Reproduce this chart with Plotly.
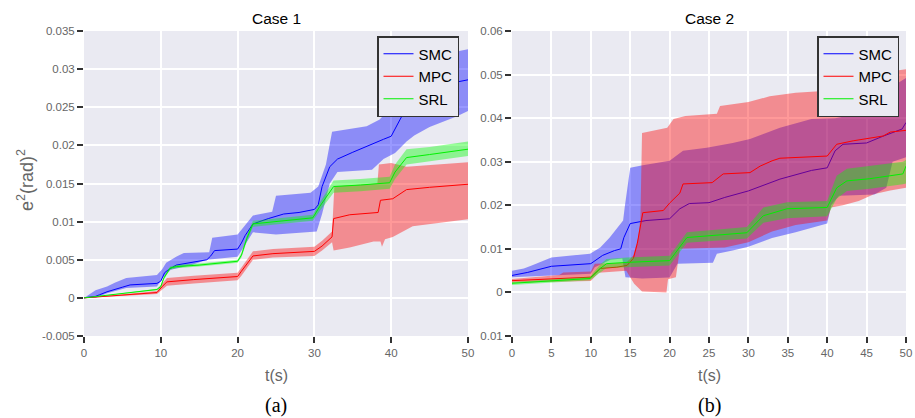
import plotly.graph_objects as go

# ---------------- Case 1 data ----------------
t1_smc = [0, 1.5, 2, 3, 5, 6, 9.5, 10, 10.5, 11, 12, 14, 16, 16.5, 17, 20, 20.5, 21, 22, 24, 26, 28, 30, 30.5, 31, 32, 33, 35, 37, 39, 40, 41, 42, 44, 46, 48, 50]
smc1 = [0, 0.0002, 0.0004, 0.0008, 0.0014, 0.0017, 0.0019, 0.0022, 0.0033, 0.0037, 0.0043, 0.0047, 0.0050, 0.0055, 0.0062, 0.0064, 0.0072, 0.0082, 0.0097, 0.0104, 0.0110, 0.0112, 0.0116, 0.0122, 0.0146, 0.0172, 0.0182, 0.0191, 0.0200, 0.0208, 0.0212, 0.0230, 0.0250, 0.0265, 0.0275, 0.0282, 0.0286]
t1_smc_up = [0, 1.5, 3, 4, 5.5, 9.5, 10.2, 10.7, 12, 13, 16.3, 16.7, 20, 21, 22, 24.5, 25, 29.5, 30.5, 31.5, 32.3, 36.8, 38.5, 39.5, 42, 44, 46, 48, 50]
smc1_up = [0, 0.001, 0.0015, 0.002, 0.0026, 0.003, 0.0038, 0.0046, 0.0054, 0.0059, 0.006, 0.0079, 0.0083, 0.0096, 0.0108, 0.0113, 0.0134, 0.0138, 0.0146, 0.0175, 0.0218, 0.0225, 0.0234, 0.0245, 0.027, 0.029, 0.031, 0.0322, 0.0326]
t1_smc_lo = [0, 1.5, 3, 5.5, 9.5, 10.3, 11.3, 14, 16, 20, 21, 22, 25, 30.3, 31, 32, 33, 37.5, 39, 40.5, 42, 43, 45, 48.5, 50]
smc1_lo = [0, 0, 0.0006, 0.0013, 0.0015, 0.0027, 0.0037, 0.0043, 0.005, 0.0054, 0.007, 0.0086, 0.0083, 0.0087, 0.011, 0.015, 0.0165, 0.0168, 0.0182, 0.019, 0.0205, 0.0213, 0.0224, 0.0238, 0.0245]

t1_mpc = [0, 9.5, 10.2, 10.8, 14.3, 20, 20.5, 22, 24.6, 30, 31, 32.3, 32.5, 34.6, 38.3, 38.6, 40.2, 42, 45, 50]
mpc1 = [0, 0.0007, 0.0015, 0.0021, 0.0024, 0.0028, 0.0035, 0.0055, 0.0058, 0.0061, 0.0068, 0.0080, 0.0104, 0.0109, 0.0112, 0.0128, 0.0130, 0.0142, 0.0145, 0.0149]
t1_mpc_up = [0, 9.5, 10.2, 10.8, 14.3, 20, 20.5, 22, 24.6, 30, 31, 32.3, 32.6, 38.2, 38.4, 40, 42, 50]
mpc1_up = [0, 0.0009, 0.0019, 0.0026, 0.0029, 0.0033, 0.0040, 0.0061, 0.0064, 0.0067, 0.0075, 0.0087, 0.0146, 0.0150, 0.0175, 0.0177, 0.0172, 0.0178]
t1_mpc_lo = [0, 9.5, 10.2, 10.8, 14.3, 20, 20.5, 22, 24.6, 30, 31, 32.3, 32.5, 34.6, 37.7, 38.6, 38.8, 39.2, 40.2, 42.8, 50]
mpc1_lo = [0, 0.0005, 0.0011, 0.0016, 0.0019, 0.0023, 0.0029, 0.0050, 0.0053, 0.0055, 0.0062, 0.0073, 0.0062, 0.0066, 0.0074, 0.0074, 0.0067, 0.0077, 0.0080, 0.0094, 0.0103]

t1_srl = [0, 9.5, 10, 10.4, 11.2, 12, 15, 17, 20, 20.5, 21.2, 22, 24.6, 29.8, 30.7, 32.5, 36, 39.8, 40.5, 42, 45, 50]
srl1 = [0, 0.0011, 0.0015, 0.0026, 0.0039, 0.0041, 0.0043, 0.0045, 0.0048, 0.0056, 0.0078, 0.0097, 0.0100, 0.0105, 0.0120, 0.0146, 0.0148, 0.0151, 0.0165, 0.0184, 0.0188, 0.0195]
srl1_up = [0, 0.0012, 0.0017, 0.0028, 0.0041, 0.0043, 0.0045, 0.0047, 0.0050, 0.0059, 0.0082, 0.0101, 0.0104, 0.0109, 0.0125, 0.0154, 0.0156, 0.0159, 0.0175, 0.0195, 0.0198, 0.0205]
srl1_lo = [0, 0.0010, 0.0013, 0.0024, 0.0037, 0.0039, 0.0041, 0.0043, 0.0046, 0.0053, 0.0074, 0.0093, 0.0096, 0.0101, 0.0114, 0.0138, 0.0140, 0.0143, 0.0156, 0.0175, 0.0179, 0.0186]

# ---------------- Case 2 data ----------------
t2_smc = [0, 2, 5, 10, 11.5, 13, 13.8, 14.2, 15, 17, 20, 21.3, 22.5, 25, 27, 30, 34, 38, 40, 41, 42, 45, 47, 49.5, 50]
smc2 = [0.0039, 0.0046, 0.0060, 0.0066, 0.0085, 0.0096, 0.0100, 0.0126, 0.0158, 0.0165, 0.0169, 0.0192, 0.0204, 0.0206, 0.0218, 0.0233, 0.0260, 0.0280, 0.0286, 0.0325, 0.0340, 0.0343, 0.0358, 0.0375, 0.0390]
t2_smc_up = [0, 1.5, 2.5, 5, 9.9, 11.2, 12.4, 14.1, 14.3, 15, 16.6, 20, 21.7, 24.7, 28, 30.2, 34, 38, 41, 44, 46, 48, 50]
smc2_up = [0.0050, 0.0055, 0.0062, 0.0080, 0.0089, 0.0103, 0.0126, 0.0165, 0.0195, 0.0286, 0.0292, 0.0302, 0.0325, 0.0332, 0.0343, 0.0352, 0.0378, 0.0398, 0.0400, 0.0410, 0.0440, 0.0470, 0.0492]
t2_smc_lo = [0, 10, 10.5, 12.5, 14, 14.4, 16.5, 20, 21, 25.5, 26, 28, 30, 33, 36, 40, 40.5, 41.5, 46, 47.5, 48.3, 50]
smc2_lo = [0.0035, 0.0043, 0.0058, 0.0075, 0.0078, 0.0035, 0.0032, 0.0034, 0.0066, 0.0068, 0.0089, 0.0096, 0.0105, 0.0125, 0.0138, 0.0158, 0.0200, 0.0222, 0.0225, 0.0240, 0.0300, 0.0310]

t2_mpc = [0, 10, 11.2, 13.3, 14.6, 15.4, 15.9, 16.6, 19.2, 20, 21.3, 21.7, 25.4, 26.8, 30.2, 31.5, 33, 34, 40, 41.2, 43.3, 47.1, 48, 50]
mpc2 = [0.0027, 0.0035, 0.0055, 0.0058, 0.0062, 0.0078, 0.0112, 0.0183, 0.0188, 0.0205, 0.0228, 0.0249, 0.0252, 0.0272, 0.0275, 0.0290, 0.0302, 0.0308, 0.0313, 0.0340, 0.0348, 0.0359, 0.0368, 0.0372]
t2_mpc_up = [0, 6, 6.5, 10, 10.5, 14.5, 15.4, 16.0, 16.3, 16.5, 19.7, 20.5, 22, 26, 26.4, 30, 32.7, 36, 39, 43, 47, 50]
mpc2_up = [0.0031, 0.0040, 0.0046, 0.0048, 0.0066, 0.0068, 0.0085, 0.0125, 0.0170, 0.0366, 0.0378, 0.0398, 0.0405, 0.0410, 0.0428, 0.0437, 0.0450, 0.0458, 0.0462, 0.0480, 0.0505, 0.0512]
t2_mpc_lo = [0, 10, 11, 14.5, 15.5, 16.5, 19.6, 19.8, 20.8, 21.3, 27, 30, 33, 36, 40, 40.5, 42, 44, 46, 48, 50]
mpc2_lo = [0.0022, 0.0026, 0.0045, 0.0050, 0.0020, 0.0002, 0.0000, 0.0030, 0.0035, 0.0100, 0.0103, 0.0115, 0.0140, 0.0155, 0.0165, 0.0195, 0.0200, 0.0210, 0.0226, 0.0234, 0.0240]

t2_srl = [0, 9.9, 11.2, 12, 14.6, 20, 22.2, 29.8, 31.9, 34.9, 40, 41.2, 42.5, 45.4, 49.6, 50]
srl2 = [0.0021, 0.0032, 0.0055, 0.0066, 0.0069, 0.0073, 0.0126, 0.0137, 0.0176, 0.0192, 0.0195, 0.0240, 0.0256, 0.0261, 0.0272, 0.0290]
srl2_up = [0.0024, 0.0036, 0.0064, 0.0077, 0.0080, 0.0084, 0.0138, 0.0150, 0.0195, 0.0207, 0.0210, 0.0268, 0.0284, 0.0290, 0.0300, 0.0304]
srl2_lo = [0.0017, 0.0028, 0.0046, 0.0056, 0.0058, 0.0062, 0.0114, 0.0124, 0.0160, 0.0170, 0.0175, 0.0215, 0.0233, 0.0238, 0.0248, 0.0250]

# ---------------- axis ticks ----------------
y1_ticks = [-0.005, 0, 0.005, 0.01, 0.015, 0.02, 0.025, 0.03, 0.035]
y1_text = ["-0.005", "0", "0.005", "0.01", "0.015", "0.02", "0.025", "0.03", "0.035"]
y2_ticks = [-0.01, 0, 0.01, 0.02, 0.03, 0.04, 0.05, 0.06]
y2_text = ["0.01", "0", "0.01", "0.02", "0.03", "0.04", "0.05", "0.06"]
x1_ticks = [0, 10, 20, 30, 40, 50]
x2_ticks = [0, 5, 10, 15, 20, 25, 30, 35, 40, 45, 50]

names = ["SMC", "MPC", "SRL"]
line_colors = ["rgb(0,0,255)", "rgb(255,0,0)", "rgb(0,240,0)"]
fill_colors = ["rgba(0,0,255,0.4)", "rgba(255,0,0,0.4)", "rgba(0,255,0,0.4)"]

case1 = [
    (t1_smc, smc1, t1_smc_up, smc1_up, t1_smc_lo, smc1_lo),
    (t1_mpc, mpc1, t1_mpc_up, mpc1_up, t1_mpc_lo, mpc1_lo),
    (t1_srl, srl1, t1_srl, srl1_up, t1_srl, srl1_lo),
]
case2 = [
    (t2_smc, smc2, t2_smc_up, smc2_up, t2_smc_lo, smc2_lo),
    (t2_mpc, mpc2, t2_mpc_up, mpc2_up, t2_mpc_lo, mpc2_lo),
    (t2_srl, srl2, t2_srl, srl2_up, t2_srl, srl2_lo),
]

fig = go.Figure()

for case, xa, ya, lg in [(case1, "x", "y", "legend"), (case2, "x2", "y2", "legend2")]:
    for i, (t, m, tu, up, tl, lo) in enumerate(case):
        fig.add_trace(go.Scatter(
            x=list(tu) + list(tl)[::-1], y=list(up) + list(lo)[::-1],
            fill="toself", fillcolor=fill_colors[i], line=dict(width=0),
            mode="lines", showlegend=False, hoverinfo="skip", xaxis=xa, yaxis=ya))
        fig.add_trace(go.Scatter(
            x=t, y=m, mode="lines", name=names[i],
            line=dict(color=line_colors[i], width=1),
            xaxis=xa, yaxis=ya, legend=lg))

ax_common = dict(
    showgrid=True, gridcolor="white", gridwidth=2, zeroline=False, automargin=False,
    showline=False, ticks="outside", ticklen=6, tickwidth=1.5, tickcolor="#333",
    tickfont=dict(family="Arial, Liberation Sans, sans-serif", size=11.5, color="#666"),
)

ydom = [1 - 336 / 418, 1 - 31 / 418]
leg_common = dict(y=1 - 36 / 418, xanchor="right", yanchor="top",
                  bgcolor="#EAEAF2", bordercolor="#333", borderwidth=1.5,
                  font=dict(size=15, color="black"))
fig.update_layout(
    width=915, height=418,
    margin=dict(l=0, r=0, t=0, b=0),
    paper_bgcolor="white", plot_bgcolor="#EAEAF2",
    font=dict(family="Arial, Liberation Sans, sans-serif"),
    xaxis=dict(domain=[84 / 915, 468 / 915], range=[0, 50], tickvals=x1_ticks, anchor="y", **ax_common),
    yaxis=dict(domain=ydom, range=[-0.005, 0.035], tickvals=y1_ticks, ticktext=y1_text, anchor="x", **ax_common),
    xaxis2=dict(domain=[512 / 915, 906 / 915], range=[0, 50], tickvals=x2_ticks, anchor="y2", **ax_common),
    yaxis2=dict(domain=ydom, range=[-0.01, 0.06], tickvals=y2_ticks, ticktext=y2_text, anchor="x2", **ax_common),
    legend=dict(x=459 / 915, **leg_common),
    legend2=dict(x=899 / 915, **leg_common),
    showlegend=True,
)

annots = [
    dict(text="Case 1", x=276 / 915, y=1 - 18 / 418, font=dict(size=15.5, color="black")),
    dict(text="Case 2", x=709 / 915, y=1 - 18 / 418, font=dict(size=15.5, color="black")),
    dict(text="t(s)", x=276 / 915, y=1 - 375 / 418, font=dict(size=16, color="#666")),
    dict(text="t(s)", x=709 / 915, y=1 - 375 / 418, font=dict(size=16, color="#666")),
    dict(text="(a)", x=276 / 915, y=1 - 405 / 418,
         font=dict(size=20, color="black", family="Liberation Serif, Times New Roman, serif")),
    dict(text="(b)", x=709 / 915, y=1 - 405 / 418,
         font=dict(size=20, color="black", family="Liberation Serif, Times New Roman, serif")),
    dict(text="e<sup>2</sup>(rad)<sup>2</sup>", x=25 / 915, y=1 - 180 / 418, textangle=-90,
         font=dict(size=18, color="#666")),
]
for a in annots:
    fig.add_annotation(xref="paper", yref="paper", showarrow=False, xanchor="center", yanchor="middle", **a)

fig.write_html("out.html", config={"displayModeBar": False},
               post_script="document.body.style.margin='0px';document.body.style.overflow='hidden';")
